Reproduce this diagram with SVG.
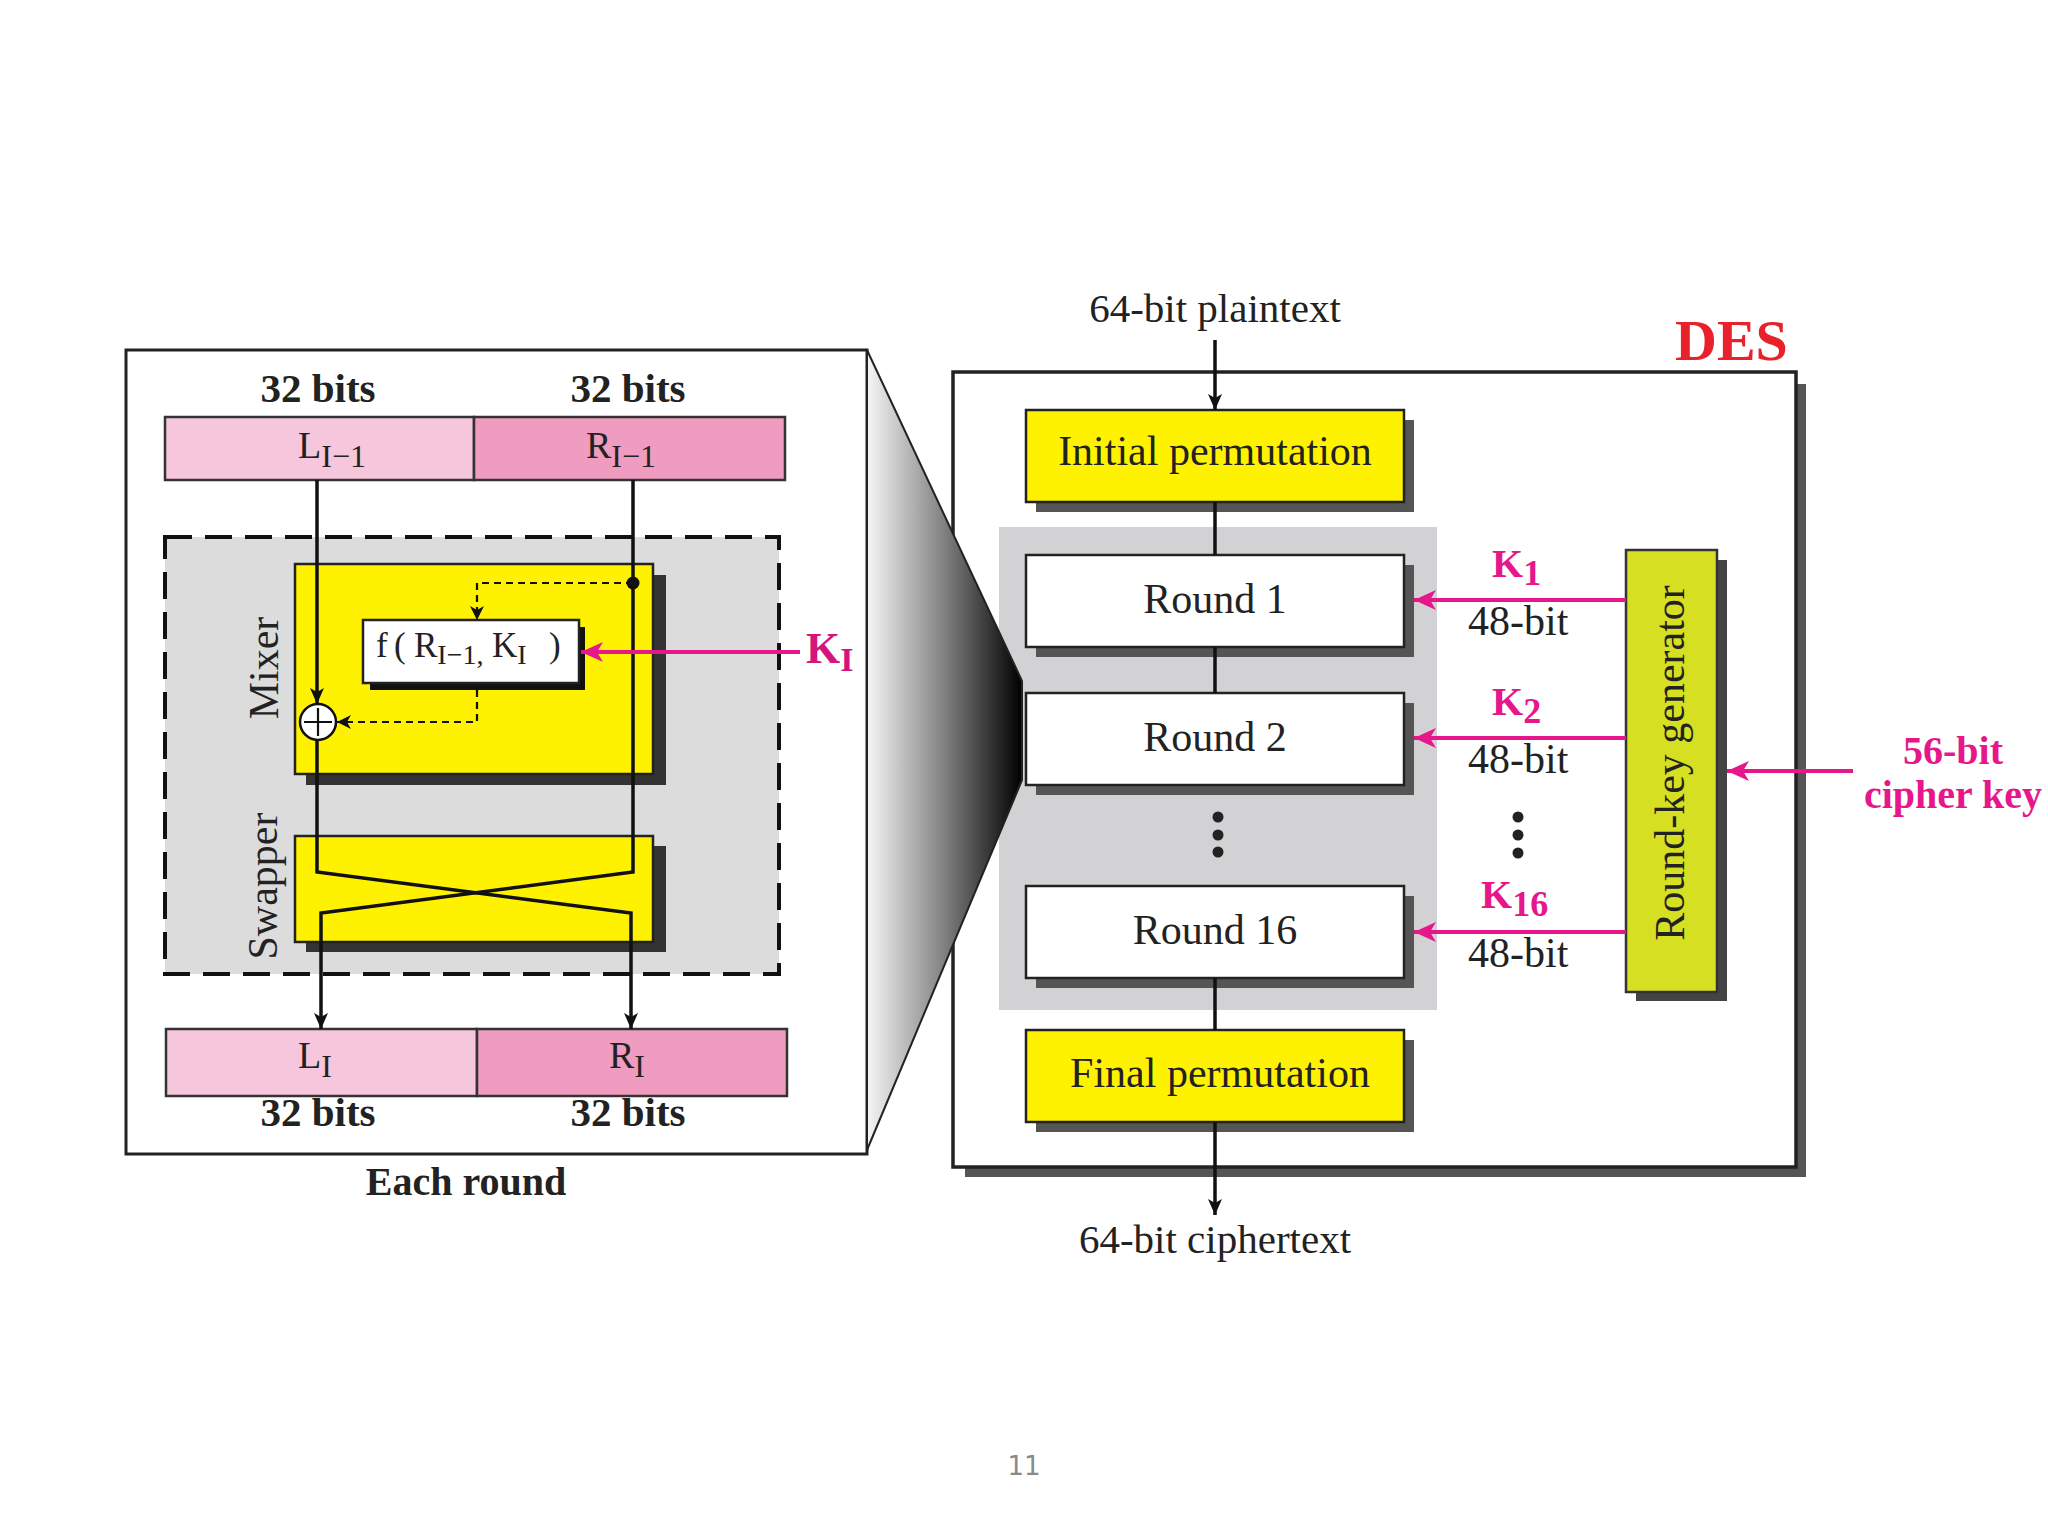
<svg xmlns="http://www.w3.org/2000/svg" width="2048" height="1536" viewBox="0 0 2048 1536">
<defs>
  <linearGradient id="funnelGrad" x1="0" y1="0" x2="1" y2="0">
    <stop offset="0" stop-color="#f6f6f6"/>
    <stop offset="0.5" stop-color="#808080"/>
    <stop offset="1" stop-color="#000"/>
  </linearGradient>
  <marker id="arrowBlack" viewBox="0 0 16 14" refX="16" refY="7" markerWidth="16" markerHeight="14" markerUnits="userSpaceOnUse" orient="auto">
    <path d="M0,0 L16,7 L0,14 L4,7 z" fill="#111"/>
  </marker>
  <marker id="arrowSmall" viewBox="0 0 14 14" refX="14" refY="7" markerWidth="14" markerHeight="14" markerUnits="userSpaceOnUse" orient="auto">
    <path d="M0,0 L14,7 L0,14 L4,7 z" fill="#111"/>
  </marker>
  <marker id="arrowPink" viewBox="0 0 22 20" refX="22" refY="10" markerWidth="22" markerHeight="20" markerUnits="userSpaceOnUse" orient="auto">
    <path d="M0,0 L22,10 L0,20 L6,10 z" fill="#e5178a"/>
  </marker>
</defs>
<style>
  text{font-family:"Liberation Serif","Times New Roman",serif;fill:#222}
  .b{font-weight:bold}
  .pink{fill:#e5178a}
  .frame{fill:#fff;stroke:#222;stroke-width:3}
  .shadow{fill:#555}
  .dshadow{fill:#333}
  .yellow{fill:#fff200;stroke:#222;stroke-width:2.5}
  .white{fill:#fff;stroke:#222;stroke-width:2.5}
  .lpink{fill:#f6c6dc;stroke:#333;stroke-width:2.5}
  .mpink{fill:#f09bc0;stroke:#333;stroke-width:2.5}
  .wire{stroke:#111;stroke-width:3.5;fill:none}
  .dash{stroke:#111;stroke-width:2.2;fill:none;stroke-dasharray:7 5}
  .pwire{stroke:#e5178a;stroke-width:4;fill:none}
  .t42{font-size:42px}
</style>
<rect width="2048" height="1536" fill="#fff"/>

<!-- ===== Left panel: Each round ===== -->
<g id="each-round-frame">
  <rect class="frame" x="126" y="350" width="741" height="804"/>
</g>
<g id="top-labels">
  <text class="b" x="318" y="402" font-size="41" text-anchor="middle">32 bits</text>
  <text class="b" x="628" y="402" font-size="41" text-anchor="middle">32 bits</text>
</g>
<g id="L-prev">
  <rect class="lpink" x="165" y="417" width="309" height="63"/>
  <text x="298" y="458" font-size="38">L<tspan font-size="32" dy="9">I−1</tspan></text>
</g>
<g id="R-prev">
  <rect class="mpink" x="474" y="417" width="311" height="63"/>
  <text x="586" y="458" font-size="38">R<tspan font-size="32" dy="9">I−1</tspan></text>
</g>
<g id="round-region">
  <rect x="165" y="537" width="614" height="437" fill="#dcdcdc" stroke="#111" stroke-width="4" stroke-dasharray="27 13"/>
</g>
<g id="mixer">
  <rect class="dshadow" x="306" y="575" width="360" height="210"/>
  <rect class="yellow" x="295" y="564" width="358" height="210"/>
  <text transform="translate(278,668) rotate(-90)" font-size="42" text-anchor="middle">Mixer</text>
</g>
<g id="swapper">
  <rect class="dshadow" x="306" y="846" width="360" height="106"/>
  <rect class="yellow" x="295" y="836" width="358" height="106"/>
  <text transform="translate(277,886) rotate(-90)" font-size="42" text-anchor="middle">Swapper</text>
</g>
<g id="f-function">
  <rect fill="#111" x="370" y="627" width="215" height="63"/>
  <rect class="white" x="363" y="620" width="216" height="63"/>
  <text x="376" y="657" font-size="35">f<tspan x="394">(</tspan><tspan x="414">R</tspan><tspan font-size="28" dy="7">I−1,</tspan><tspan dy="-7" x="492">K</tspan><tspan font-size="28" dy="7">I</tspan><tspan dy="-7" x="549">)</tspan></text>
</g>
<g id="xor">
  <circle cx="318" cy="722" r="18" fill="#fff" stroke="#111" stroke-width="2.5"/>
  <path d="M318,708 V736 M304,722 H332" stroke="#111" stroke-width="2.2"/>
</g>
<g id="L-out">
  <rect class="lpink" x="166" y="1029" width="311" height="67"/>
  <text x="298" y="1068" font-size="38">L<tspan font-size="32" dy="9">I</tspan></text>
</g>
<g id="R-out">
  <rect class="mpink" x="477" y="1029" width="310" height="67"/>
  <text x="609" y="1068" font-size="38">R<tspan font-size="32" dy="9">I</tspan></text>
</g>
<g id="bottom-labels">
  <text class="b" x="318" y="1126" font-size="41" text-anchor="middle">32 bits</text>
  <text class="b" x="628" y="1126" font-size="41" text-anchor="middle">32 bits</text>
  <text class="b" x="466" y="1195" font-size="40" text-anchor="middle">Each round</text>
</g>
<g id="KI-label">
  <text class="b" x="806" y="663" font-size="44" style="fill:#d4157e">K<tspan font-size="34" dy="8">I</tspan></text>
</g>

<!-- ===== Right panel: DES ===== -->
<g id="des-frame">
  <rect class="shadow" x="965" y="384" width="841" height="793"/>
  <rect fill="#fff" stroke="#222" stroke-width="3.5" x="953" y="372" width="843" height="795"/>
  <text class="b" x="1675" y="360" font-size="58" style="fill:#e8212b">DES</text>
</g>
<g id="rounds-region">
  <rect x="999" y="527" width="438" height="483" fill="#d2d2d4"/>
</g>
<g id="initial-permutation">
  <rect class="shadow" x="1036" y="420" width="378" height="92"/>
  <rect class="yellow" x="1026" y="410" width="378" height="92"/>
  <text class="t42" x="1215" y="465" text-anchor="middle">Initial permutation</text>
</g>
<g id="round-1">
  <rect class="shadow" x="1036" y="565" width="378" height="92"/>
  <rect class="white" x="1026" y="555" width="378" height="92"/>
  <text class="t42" x="1215" y="613" text-anchor="middle">Round 1</text>
</g>
<g id="round-2">
  <rect class="shadow" x="1036" y="703" width="378" height="92"/>
  <rect class="white" x="1026" y="693" width="378" height="92"/>
  <text class="t42" x="1215" y="751" text-anchor="middle">Round 2</text>
</g>
<g id="round-dots">
  <circle cx="1218" cy="817" r="5.5" fill="#222"/>
  <circle cx="1218" cy="835" r="5.5" fill="#222"/>
  <circle cx="1218" cy="852" r="5.5" fill="#222"/>
</g>
<g id="round-16">
  <rect class="shadow" x="1036" y="896" width="378" height="92"/>
  <rect class="white" x="1026" y="886" width="378" height="92"/>
  <text class="t42" x="1215" y="944" text-anchor="middle">Round 16</text>
</g>
<g id="final-permutation">
  <rect class="shadow" x="1036" y="1040" width="378" height="92"/>
  <rect class="yellow" x="1026" y="1030" width="378" height="92"/>
  <text class="t42" x="1220" y="1087" text-anchor="middle">Final permutation</text>
</g>
<g id="round-key-generator">
  <rect fill="#444" x="1636" y="560" width="91" height="441"/>
  <rect fill="#d7df23" stroke="#333" stroke-width="2.5" x="1626" y="550" width="91" height="442"/>
  <text transform="translate(1684,763) rotate(-90)" font-size="42" text-anchor="middle">Round-key generator</text>
</g>
<g id="key-labels">
  <text class="b pink" x="1492" y="577" font-size="40">K<tspan font-size="36" dy="8">1</tspan></text>
  <text class="t42" x="1468" y="635">48-bit</text>
  <text class="b pink" x="1492" y="715" font-size="40">K<tspan font-size="36" dy="8">2</tspan></text>
  <text class="t42" x="1468" y="773">48-bit</text>
  <text class="b pink" x="1481" y="908" font-size="40">K<tspan font-size="36" dy="8">16</tspan></text>
  <text class="t42" x="1468" y="967">48-bit</text>
  <circle cx="1518" cy="817" r="5.5" fill="#222"/>
  <circle cx="1518" cy="835" r="5.5" fill="#222"/>
  <circle cx="1518" cy="853" r="5.5" fill="#222"/>
</g>
<g id="cipher-key-label">
  <text class="b pink" x="1953" y="764" font-size="40" text-anchor="middle">56-bit</text>
  <text class="b pink" x="1953" y="808" font-size="40" text-anchor="middle">cipher key</text>
</g>
<g id="io-labels">
  <text font-size="41" x="1215" y="322" text-anchor="middle">64-bit plaintext</text>
  <text font-size="41" x="1215" y="1253" text-anchor="middle">64-bit ciphertext</text>
</g>

<!-- ===== Zoom funnel ===== -->
<g id="zoom-funnel">
  <polygon points="867,350 1022,681 1022,780 867,1150" fill="url(#funnelGrad)" stroke="#222" stroke-width="2"/>
</g>

<!-- ===== Connectors ===== -->
<g id="connectors">
  <path class="wire" d="M317,480 V704" marker-end="url(#arrowBlack)"/>
  <path class="wire" d="M317,740 V872 L631,913 V1029" marker-end="url(#arrowBlack)"/>
  <path class="wire" d="M633,480 V872 L321,913 V1029" marker-end="url(#arrowBlack)"/>
  <circle cx="633" cy="583" r="6.5" fill="#111"/>
  <path class="dash" d="M633,583 H477 V620" marker-end="url(#arrowSmall)"/>
  <path class="dash" d="M477,690 V722 H337" marker-end="url(#arrowSmall)"/>
  <path class="pwire" d="M800,652 H581" marker-end="url(#arrowPink)"/>

  <path class="wire" stroke-width="4" d="M1215,340 V410" marker-end="url(#arrowBlack)"/>
  <path class="wire" stroke-width="4" d="M1215,502 V555"/>
  <path class="wire" stroke-width="4" d="M1215,647 V693"/>
  <path class="wire" stroke-width="4" d="M1215,978 V1030"/>
  <path class="wire" stroke-width="4" d="M1215,1122 V1215" marker-end="url(#arrowBlack)"/>

  <path class="pwire" d="M1626,600 H1414" marker-end="url(#arrowPink)"/>
  <path class="pwire" d="M1626,738 H1414" marker-end="url(#arrowPink)"/>
  <path class="pwire" d="M1626,932 H1414" marker-end="url(#arrowPink)"/>
  <path class="pwire" d="M1853,771 H1727" marker-end="url(#arrowPink)"/>
</g>

<g id="page-number">
  <text x="1024" y="1475" font-size="26" text-anchor="middle" style="font-family:'DejaVu Sans',sans-serif;fill:#8a8a8a">11</text>
</g>
</svg>
